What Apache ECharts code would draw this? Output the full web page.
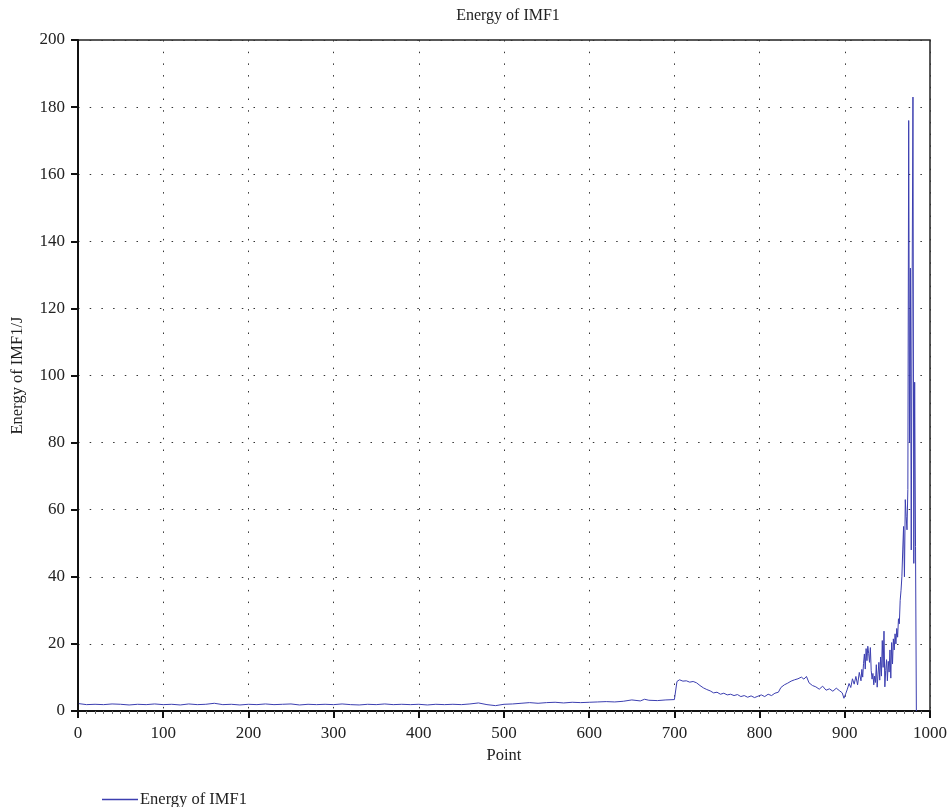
<!DOCTYPE html>
<html>
<head>
<meta charset="utf-8">
<script src="https://cdn.jsdelivr.net/npm/echarts@6/dist/echarts.min.js"></script>
<style>html,body{margin:0;padding:0;background:#fff}#c{width:950px;height:807px}</style>
</head>
<body>
<div id="c"></div>
<script>
const titleText = 'Energy of IMF1';
const seriesName = 'Energy of IMF1';
const xName = 'Point';
const yName = 'Energy of IMF1/J';

const pointX = [
  1,10,20,30,40,50,60,70,80,90,100,110,120,130,140,150,160,170,180,190,
  200,210,220,230,240,250,260,270,280,290,300,310,320,330,340,350,360,370,380,390,
  400,410,420,430,440,450,460,470,480,490,500,510,520,530,540,550,560,570,580,590,
  600,610,620,630,640,650,660,665,670,680,690,700,702,703,706,710,714,718,722,726,
  730,734,738,742,746,750,754,758,762,766,770,774,778,782,786,790,794,798,802,806,
  810,814,818,822,825,829,833,837,841,845,849,852,855,858,862,866,870,874,878,882,
  886,890,894,897,899,901,903,905,907,909,911,913,915,917,919,920,921,922,923,924,
  925,926,927,928,929,930,931,932,933,934,935,936,937,938,939,940,941,942,943,944,
  945,946,947,948,949,950,951,952,953,954,955,956,957,958,959,960,961,962,963,964,
  965,966,967,968,969,970,971,972,973,974,975,976,977,978,979,980,981,982,983,984
];
const energy = [
  2.2,1.9,2.0,1.9,2.1,2.0,1.8,2.0,1.9,2.1,1.9,2.0,1.8,2.1,1.9,2.0,2.3,1.9,2.0,1.8,
  2.0,1.9,2.1,1.9,2.0,2.1,1.8,2.0,1.9,2.0,1.9,2.1,1.9,1.8,2.0,1.9,2.1,1.9,2.0,1.9,
  2.0,1.8,2.0,1.9,2.0,1.9,2.1,2.4,1.9,1.6,2.0,2.1,2.3,2.5,2.3,2.5,2.6,2.4,2.6,2.5,
  2.6,2.7,2.8,2.7,2.9,3.3,3.0,3.5,3.2,3.1,3.3,3.4,3.5,8.8,9.3,8.9,9.0,8.6,8.8,8.4,
  7.6,6.9,6.4,6.0,5.4,5.6,5.0,5.3,4.8,5.0,4.6,4.9,4.3,4.6,4.1,4.5,4.0,4.4,4.8,4.3,
  5.0,4.6,5.3,5.6,7.0,7.8,8.3,8.9,9.3,9.6,10.1,9.5,10.3,8.4,7.6,7.2,6.5,7.4,6.2,6.6,
  5.9,6.8,6.0,5.4,3.8,5.1,6.5,8.2,7.0,9.6,8.0,10.3,7.8,11.5,9.0,12.4,10.1,14.2,17.0,12.5,
  18.6,15.0,19.3,17.2,14.5,18.9,12.0,9.5,11.2,7.8,10.4,8.5,13.8,7.1,11.0,14.5,9.2,16.1,10.4,21.0,
  13.0,23.8,7.2,12.1,15.3,9.0,14.8,11.6,18.2,9.8,20.4,14.0,21.5,18.2,23.0,20.0,24.6,22.0,27.5,26.0,
  33.0,36.0,40.0,48.0,55.0,40.0,63.0,58.0,54.0,66.0,176.0,80.0,132.0,48.0,124.0,183.0,44.0,98.0,49.0,0.0
];
const xTicks = [0,100,200,300,400,500,600,700,800,900,1000];
const yTicks = [0,20,40,60,80,100,120,140,160,180,200];

const font = 'Liberation Serif';
const chart = echarts.init(document.getElementById('c'), null, {renderer: 'canvas'});
chart.setOption({
  animation: false,
  backgroundColor: '#fff',
  title: {
    text: titleText, left: 503, top: 3, textAlign: 'center',
    textStyle: {fontFamily: font, fontSize: 16, fontWeight: 'normal', color: '#222'}
  },
  legend: {
    left: 97, top: 786, itemWidth: 36, itemHeight: 10, itemGap: 8,
    textStyle: {fontFamily: font, fontSize: 16.5, color: '#222', padding: [0, 0, 0, -3]},
    data: [{name: seriesName, icon: 'path://M0,0 L36,0 L36,1.6 L0,1.6 Z'}]
  },
  grid: {left: 78, right: 20, top: 40, bottom: 96, show: true, borderColor: '#222', borderWidth: 1.5, backgroundColor: 'transparent'},
  xAxis: {
    type: 'value', min: xTicks[0], max: xTicks[xTicks.length-1], interval: 100,
    name: xName, nameLocation: 'middle', nameGap: 28,
    nameTextStyle: {fontFamily: font, fontSize: 16.5, color: '#222'},
    axisLine: {show: true, onZero: false, lineStyle: {color: '#111', width: 2}},
    axisTick: {show: true, length: 7, lineStyle: {color: '#111', width: 2}},
    minorTick: {show: true, splitNumber: 10, length: 3, lineStyle: {color: '#666', width: 1}},
    axisLabel: {fontFamily: font, fontSize: 17, color: '#222', margin: 14, formatter: v => String(v)},
    splitLine: {show: true, lineStyle: {color: '#333', width: 1, type: [1.5, 10.2]}}
  },
  yAxis: {
    type: 'value', min: yTicks[0], max: yTicks[yTicks.length-1], interval: 20,
    name: yName, nameLocation: 'middle', nameGap: 52, nameRotate: 90,
    nameTextStyle: {fontFamily: font, fontSize: 16.5, color: '#222'},
    axisLine: {show: true, lineStyle: {color: '#111', width: 2}},
    axisTick: {show: true, length: 7, lineStyle: {color: '#111', width: 2}},
    axisLabel: {fontFamily: font, fontSize: 17, color: '#222', margin: 13, formatter: v => String(v)},
    splitLine: {show: true, lineStyle: {color: '#333', width: 1, type: [1.5, 10.2]}}
  },
  series: [{
    name: seriesName, type: 'line', symbol: 'none', showSymbol: false,
    data: pointX.map((x, i) => [x, energy[i]]),
    lineStyle: {color: '#3c3fb0', width: 1},
    itemStyle: {color: '#3c3fb0'}
  }]
});
</script>
</body>
</html>
